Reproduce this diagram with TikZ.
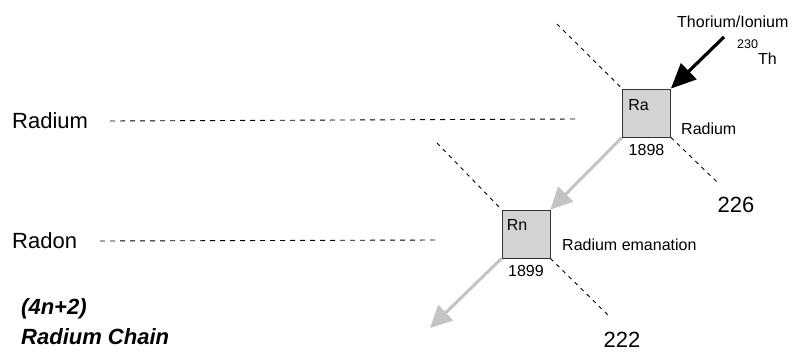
\documentclass[tikz,border=0pt]{standalone}
\usepackage{fontspec}
\setmainfont{Liberation Sans}
\usepackage{tikz}
\usetikzlibrary{
	arrows.meta,
	positioning,
	}

\definecolor{boxgray}{RGB}{211,211,211}
\definecolor{decaygray}{RGB}{196,196,196}

\tikzset{
	elem/.style={draw=black!80, fill=boxgray, line width=0.8pt, minimum size=48pt, inner sep=0pt},
	small/.style={font=\fontsize{16}{19}\selectfont, inner sep=0pt},
	big/.style={font=\fontsize{22}{26}\selectfont, inner sep=0pt},
	guide/.style={line width=0.9pt, dash pattern=on 5pt off 5pt},
	diag/.style={line width=0.9pt, dash pattern=on 4pt off 4.5pt},
	decay/.style={decaygray, line width=3pt, -{Triangle[length=22pt,width=21pt]}},
	feed/.style={black, line width=3.2pt, -{Triangle[length=25pt,width=22pt]}},
}

\begin{document}
\begin{tikzpicture}[x=1pt, y=-1pt]
	\useasboundingbox (0,0) rectangle (793,353);

	% the two boxes
	\node[elem] (Ra) at (646.5,113) {};
	\node[elem] (Rn) at (526,234) {};

	\node[small, anchor=north west] (RaSym) at ([xshift=6pt,yshift=-11pt]Ra.north west) {Ra};
	\node[small, anchor=north west] (RnSym) at ([xshift=5pt,yshift=-10pt]Rn.north west) {Rn};
	\node[small, below=7pt of Ra.south] (RaYear) {1898};
	\node[small, below=7pt of Rn.south] (RnYear) {1899};
	\node[small, anchor=west] (RaName) at (681,129) {Radium};
	\node[small, anchor=west] (RnName) at (562,245) {Radium emanation};

	\node[small, anchor=west] (thor) at (677,22) {Thorium/Ionium};
	\node[small, anchor=base west] (th) at (737,65) {\raisebox{17pt}{\fontsize{12.5}{14}\selectfont 230}Th};

	\node[big] (m226) at (736,205) {226};
	\node[big] (m222) at (622,340) {222};

	% row names
	\node[big, anchor=west] (RaRow) at (12,121) {Radium};
	\node[big, anchor=west] (RnRow) at (12,241) {Radon};
	\node[big, anchor=west, font=\fontsize{22}{26}\selectfont\bfseries\itshape] (chain1) at (21,309) {(4n+2)};
	\node[big, anchor=west, font=\fontsize{22}{26}\selectfont\bfseries\itshape] (chain2) at (21,337) {Radium Chain};

	\coordinate (RaRowEnd) at (575,119);
	\coordinate (RnRowEnd) at (438,240);
	\coordinate (RaUp) at (557,24);
	\coordinate (RaDown) at (717,182);
	\coordinate (RnUp) at (437,143);
	\coordinate (RnDown) at (610,317);
	\coordinate (thSrc) at (724,37);
	\coordinate (outEnd) at (430,328);

	\draw[guide] ([xshift=22pt]RaRow.east) -- (RaRowEnd);
	\draw[guide] ([xshift=23pt]RnRow.east) -- (RnRowEnd);
	\draw[diag] (RaUp) -- (Ra.north west);
	\draw[diag] (Ra.south east) -- (RaDown);
	\draw[diag] (RnUp) -- (Rn.north west);
	\draw[diag] (Rn.south east) -- (RnDown);

	\draw[feed] (thSrc) -- (Ra.north east);
	\draw[decay] (Ra.south west) -- (Rn.north east);
	\draw[decay] (Rn.south west) -- (outEnd);
\end{tikzpicture}
\end{document}
